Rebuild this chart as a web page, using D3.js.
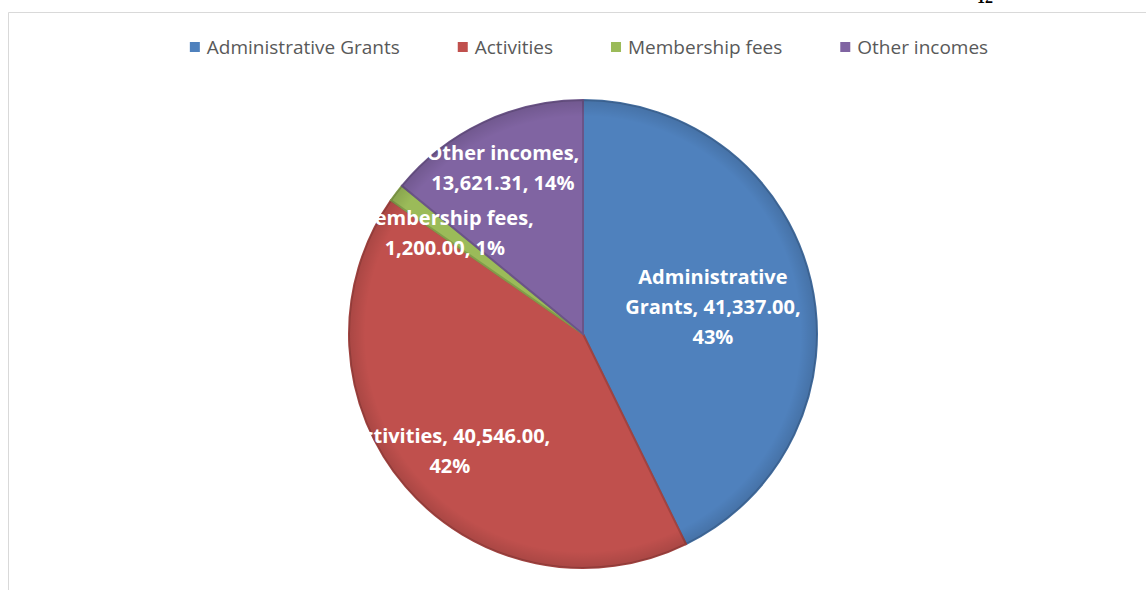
<!DOCTYPE html>
<html>
<head>
<meta charset="utf-8">
<script src="https://cdn.jsdelivr.net/npm/d3@7"></script>
<style>
  body { margin: 0; background: #fff; }
  svg { display: block; }
</style>
</head>
<body>
<svg id="chart"></svg>
<script>
// data
const categories = ['Administrative Grants', 'Activities', 'Membership fees', 'Other incomes'];
const values = [41337.00, 40546.00, 1200.00, 13621.31];
const colors = ['#4F81BD', '#C0504D', '#9BBB59', '#8064A2'];

// label placement (fraction of radius) and wrap widths, per slice
const labelRadius = [0.57, 0.75, 0.74, 0.8];
const wrapWidth = [180, 225, 190, 190];

const width = 1146, height = 590;
const svg = d3.select('#chart').attr('width', width).attr('height', height);

// chart area border
svg.append('path')
  .attr('d', `M8.5,${height} V12.5 H${width}`)
  .attr('fill', 'none')
  .attr('stroke', '#d9d9d9');

// bit of page number cut off at top
svg.append('text')
  .attr('x', 985).attr('y', 3)
  .attr('text-anchor', 'middle')
  .style('font', 'bold 16px "Liberation Serif"')
  .attr('fill', '#000')
  .text('12');

// legend
const legend = svg.append('g');
let lx = 0;
categories.forEach((c, i) => {
  const g = legend.append('g').attr('transform', `translate(${lx},0)`);
  g.append('rect').attr('x', 0).attr('y', -5).attr('width', 10).attr('height', 10).attr('fill', colors[i]);
  const t = g.append('text')
    .attr('x', 17).attr('y', 6.5)
    .style('font', '19px "Open Sans", sans-serif')
    .attr('fill', '#595959')
    .text(c);
  lx += 17 + t.node().getComputedTextLength() + (i < categories.length - 1 ? 58 : 0);
});
legend.attr('transform', `translate(${589 - lx / 2},47)`);

// pie
const cx = 583, cy = 334, r = 234;
const total = d3.sum(values);
const pie = d3.pie().sort(null).value(d => d)(values);
const arc = d3.arc().innerRadius(0).outerRadius(r);

const g = svg.append('g').attr('transform', `translate(${cx},${cy})`);

g.selectAll('path.slice')
  .data(pie)
  .enter()
  .append('path')
  .attr('class', 'slice')
  .attr('d', arc)
  .attr('fill', (d, i) => colors[i])
  .attr('stroke', (d, i) => d3.color(colors[i]).darker(0.5))
  .attr('stroke-width', 2);

// subtle bevel
const defs = svg.append('defs');
const grad = defs.append('radialGradient').attr('id', 'bevel');
grad.append('stop').attr('offset', '0.93').attr('stop-color', '#000').attr('stop-opacity', 0);
grad.append('stop').attr('offset', '1').attr('stop-color', '#000').attr('stop-opacity', 0.12);
g.append('circle').attr('r', r).attr('fill', 'url(#bevel)');

const fmt = d3.format(',.2f');
const pct = d3.format('.0%');

const labelFont = 'bold 20px "Open Sans", sans-serif';
const measure = svg.append('text').style('font', labelFont).attr('visibility', 'hidden');
function wrap(str, maxW) {
  const words = str.split(' ');
  const lines = [];
  let cur = '';
  words.forEach(w => {
    const test = cur ? cur + ' ' + w : w;
    measure.text(test);
    if (cur && measure.node().getComputedTextLength() > maxW) {
      lines.push(cur);
      cur = w;
    } else cur = test;
  });
  lines.push(cur);
  return lines;
}

const lineH = 30;
pie.forEach((d, i) => {
  const la = d3.arc().innerRadius(r * labelRadius[i]).outerRadius(r * labelRadius[i]);
  const [x, y] = la.centroid(d);
  const lines = wrap(`${categories[i]}, ${fmt(values[i])}, ${pct(values[i] / total)}`, wrapWidth[i]);
  const t = g.append('text')
    .attr('text-anchor', 'middle')
    .style('font', labelFont)
    .attr('fill', '#fff');
  lines.forEach((l, k) => {
    t.append('tspan')
      .attr('x', x)
      .attr('y', y + (k - (lines.length - 1) / 2) * lineH + 3)
      .attr('dy', '0.35em')
      .text(l);
  });
});
measure.remove();
</script>
</body>
</html>
